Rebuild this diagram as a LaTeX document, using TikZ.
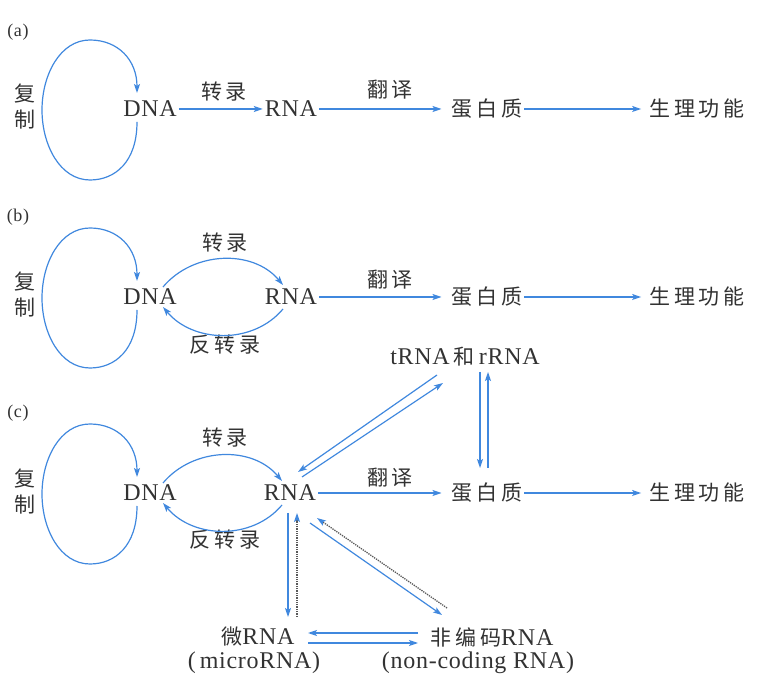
\documentclass[tikz,border=0pt]{standalone}
\usepackage{fontspec}
\setmainfont[LetterSpace=3]{Liberation Serif}
\newfontfamily\cjk[LetterSpace=18]{Noto Sans CJK SC}
\usetikzlibrary{arrows.meta,positioning}
\definecolor{flowblue}{RGB}{64,136,222}
\definecolor{inkgray}{RGB}{50,50,50}
\newcommand\zhtext[1]{{\cjk\fontsize{21}{26}\selectfont #1}}

\begin{document}
\begin{tikzpicture}[x=1pt,y=1pt,
  lat/.style={font=\fontsize{24}{28}\selectfont, text=inkgray, inner sep=2pt},
  zh/.style={font=\cjk\fontsize{21}{26}\selectfont, text=inkgray, inner sep=2pt},
  tag/.style={font=\fontsize{18}{22}\selectfont, text=inkgray, inner sep=0pt},
  flow/.style={draw=flowblue, line width=1.2pt, -{Stealth[length=9pt,width=6pt,inset=2pt]}},
  dotflow/.style={draw=gray!70!black, line width=1.3pt, densely dotted, -{Stealth[length=9pt,width=6pt,inset=2pt,color=flowblue]}}]
\useasboundingbox (0,0) rectangle (759,687);

% (a)
\node[tag] (tagA) at (18,655) {(a)};
\node[zh, align=center] (repA) at (25,580) {复\\制};
\node[lat] (dnaA) at (150,578) {DNA};
\node[lat] (rnaA) at (291,578) {RNA};
\node[zh] (protA) at (487,578) {蛋白质};
\node[zh] (funcA) at (697,578) {生理功能};
\node[zh] (tsA) at (224,595) {转录};
\node[zh] (tlA) at (390,597) {翻译};

\draw[flow] (dnaA.east) -- (dnaA.east -| rnaA.west);
\draw[flow, shorten >=8pt] (rnaA.east) -- (rnaA.east -| protA.west);
\draw[flow, shorten >=6pt] (protA.east) -- (protA.east -| funcA.west);

% (b)
\node[tag] (tagB) at (18,470) {(b)};
\node[zh, align=center] (repB) at (25,392) {复\\制};
\node[lat] (dnaB) at (150,390) {DNA};
\node[lat] (rnaB) at (291,390) {RNA};
\node[zh] (protB) at (487,390) {蛋白质};
\node[zh] (funcB) at (697,390) {生理功能};
\node[zh] (tsB) at (225,444) {转录};
\node[zh] (rtB) at (225,342) {反转录};
\node[zh] (tlB) at (390,407) {翻译};

\draw[flow] ([shift={(13,10)}]dnaB.center) to[out=50,in=130] ([shift={(-8,12)}]rnaB.center);
\draw[flow] ([shift={(-8,-12)}]rnaB.center) to[out=-130,in=-50] ([shift={(13,-10)}]dnaB.center);
\draw[flow, shorten >=8pt] (rnaB.east) -- (rnaB.east -| protB.west);
\draw[flow, shorten >=6pt] (protB.east) -- (protB.east -| funcB.west);

% (c)
\node[tag] (tagC) at (18,274) {(c)};
\node[zh, align=center] (repC) at (25,195) {复\\制};
\node[lat] (dnaC) at (150,194) {DNA};
\node[lat] (rnaC) at (290,194) {RNA};
\node[zh] (protC) at (487,194) {蛋白质};
\node[zh] (funcC) at (697,194) {生理功能};
\node[zh] (tsC) at (225,249) {转录};
\node[zh] (rtC) at (225,147) {反转录};
\node[zh] (tlC) at (390,209) {翻译};
\node[lat] (trna) at (465,330) {tRNA\,\zhtext{和}\,rRNA};
\node[lat] (micro) at (258,50) {\zhtext{微}RNA};
\node[lat] (microen) at (254,24) {(\,microRNA)};
\node[lat] (ncrna) at (492,50) {\zhtext{非编码}RNA};
\node[lat] (ncen) at (478,24) {(non-coding RNA)};

\draw[flow] ([shift={(13,10)}]dnaC.center) to[out=50,in=130] ([shift={(-8,12)}]rnaC.center);
\draw[flow] ([shift={(-8,-12)}]rnaC.center) to[out=-130,in=-50] ([shift={(13,-10)}]dnaC.center);
\draw[flow, shorten >=8pt] (rnaC.east) -- (rnaC.east -| protC.west);
\draw[flow, shorten >=6pt] (protC.east) -- (protC.east -| funcC.west);

\draw[flow] ([shift={(-28,-18)}]trna.center) -- ([shift={(8,21)}]rnaC.center);
\draw[flow] ([shift={(12,16)}]rnaC.center) -- ([shift={(-22,-26)}]trna.center);
\draw[flow] ([shift={(15,-15)}]trna.center) -- ([shift={(-7,25)}]protC.center);
\draw[flow] ([shift={(1,25)}]protC.center) -- ([shift={(23,-15)}]trna.center);

\draw[flow] ([shift={(-2,-20)}]rnaC.center) -- ([shift={(30,20)}]micro.center);
\draw[dotflow] ([shift={(39,20)}]micro.center) -- ([shift={(7,-20)}]rnaC.center);
\draw[flow] ([shift={(20,-30)}]rnaC.center) -- ([shift={(-50,22)}]ncrna.center);
\draw[dotflow] ([shift={(-45,29)}]ncrna.center) -- ([shift={(27,-25)}]rnaC.center);
\draw[flow] ([shift={(-74,4)}]ncrna.center) -- ([shift={(50,4)}]micro.center);
\draw[flow] ([shift={(50,-6)}]micro.center) -- ([shift={(-74,-6)}]ncrna.center);

% replication loops
\foreach \d in {dnaA,dnaB,dnaC}
  \draw[flow] ([shift={(-13,-13)}]\d.center) .. controls +(0,-40) and +(25,0) .. ++(-47,-58)
    .. controls +(-30,0) and +(0,-35) .. ++(-48,70)
    .. controls +(0,35) and +(-30,0) .. ++(48,70)
    .. controls +(28,0) and +(0,33) .. ++(47,-53);
\end{tikzpicture}
\end{document}
